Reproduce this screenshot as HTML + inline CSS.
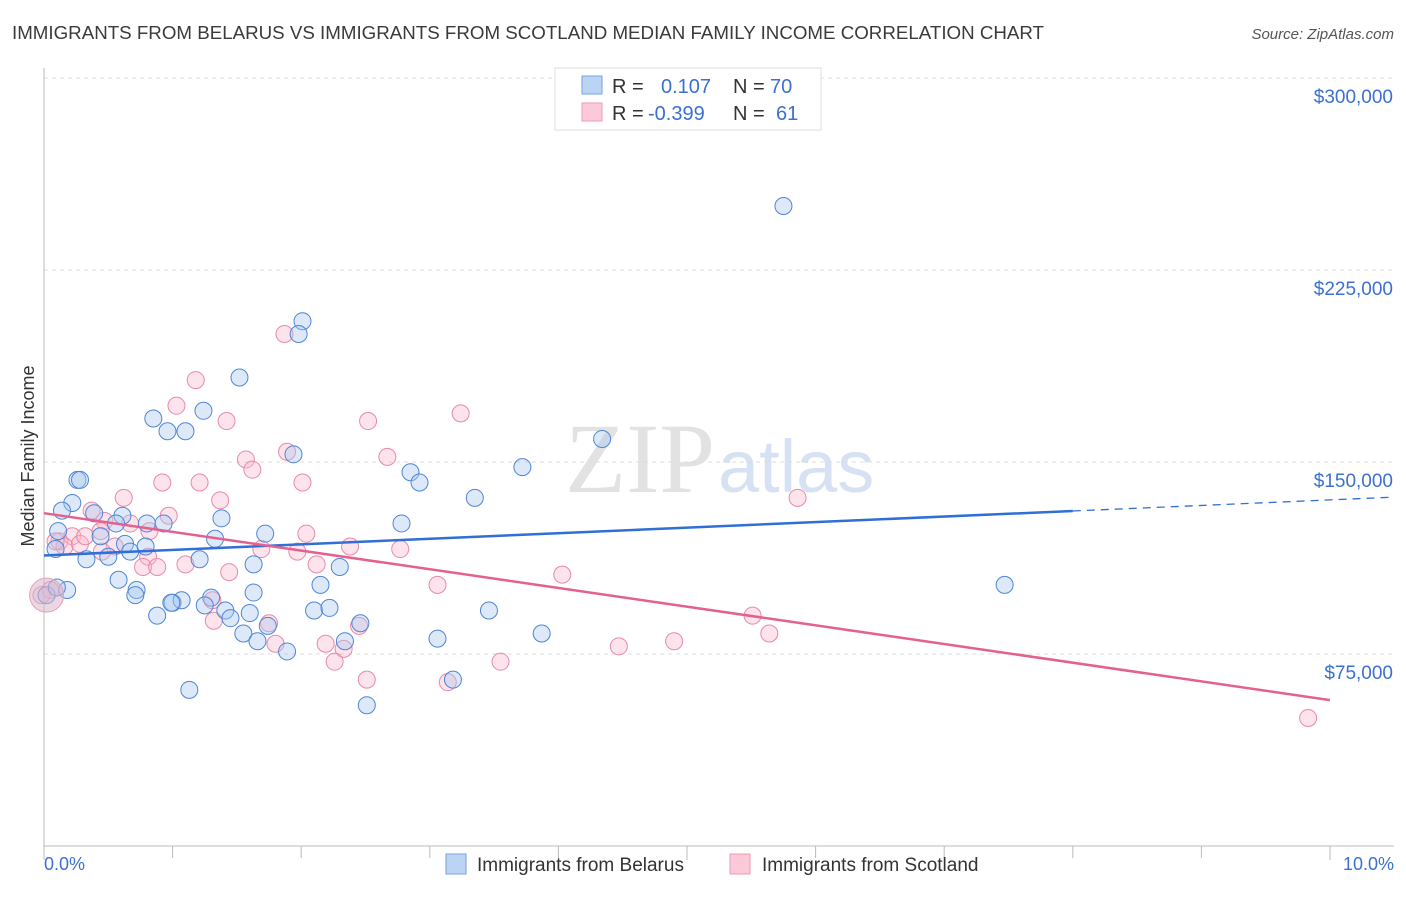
<!DOCTYPE html>
<html><head><meta charset="utf-8"><style>
body{margin:0;background:#fff;width:1406px;height:892px;overflow:hidden;font-family:"Liberation Sans",sans-serif}
</style></head><body>
<svg id="c" width="1406" height="892" xmlns="http://www.w3.org/2000/svg">
<text x="12" y="39" font-size="18" fill="#3a3a3a" textLength="1032" lengthAdjust="spacingAndGlyphs">IMMIGRANTS FROM BELARUS VS IMMIGRANTS FROM SCOTLAND MEDIAN FAMILY INCOME CORRELATION CHART</text>
<text x="1394" y="39" font-size="15" fill="#555" font-style="italic" text-anchor="end">Source: ZipAtlas.com</text>
<text x="715" y="492" font-size="100" fill="#e2e2e2" text-anchor="end" font-family="Liberation Serif,serif">ZIP</text>
<text x="718" y="492" font-size="74" fill="#d6e2f3">atlas</text>
<text transform="translate(34,456) rotate(-90)" font-size="18" fill="#333" text-anchor="middle">Median Family Income</text>
<g id="grid"></g><g id="pts"></g><g id="lines"></g>
<g>
<rect x="555" y="68" width="266" height="62" fill="#fff" stroke="#ddd"/>
<rect x="582" y="76" width="20" height="18" fill="#bcd4f4" stroke="#7aa3e0"/>
<rect x="582" y="103" width="20" height="18" fill="#fcc9d8" stroke="#ee9ab3"/>
<text x="612" y="93" font-size="20" fill="#333">R = <tspan fill="#3b70d0" x="661">0.107</tspan><tspan fill="#333" x="733">N = </tspan><tspan fill="#3b70d0" x="770">70</tspan></text>
<text x="612" y="120" font-size="20" fill="#333">R = <tspan fill="#3b70d0" x="648">-0.399</tspan><tspan fill="#333" x="733">N = </tspan><tspan fill="#3b70d0" x="776">61</tspan></text>
</g>
<g>
<rect x="446" y="854" width="20" height="20" fill="#bcd4f4" stroke="#7aa3e0"/>
<text x="477" y="871" font-size="19" fill="#333">Immigrants from Belarus</text>
<rect x="730" y="854" width="20" height="20" fill="#fcc9d8" stroke="#ee9ab3"/>
<text x="762" y="871" font-size="19" fill="#333">Immigrants from Scotland</text>
</g>
<text x="44" y="870" font-size="18" fill="#3b70d0">0.0%</text>
<text x="1394" y="870" font-size="18" fill="#3b70d0" text-anchor="end">10.0%</text>
</svg>
<script>
const yTicks=[300000,225000,150000,75000];
const yTickLabels=["$300,000","$225,000","$150,000","$75,000"];
const xTicks=[0,1,2,3,4,5,6,7,8,9,10];
const belarusX=[5.75,2.01,1.98,1.52,0.85,1.24,0.96,1.10,1.94,4.34,3.72,2.85,2.92,3.35,0.26,0.28,0.22,0.14,0.39,0.61,0.56,0.80,0.93,2.78,1.38,1.72,0.11,0.44,0.63,0.79,1.33,0.09,0.50,0.67,0.33,1.21,1.63,2.30,0.58,2.15,0.72,7.47,0.18,0.71,1.63,1.30,0.88,1.00,1.07,0.99,1.25,1.41,1.45,1.60,2.10,3.46,2.46,1.55,1.66,2.34,3.06,3.87,1.89,1.13,3.18,2.51,0.02,1.74,2.22,0.10];
const belarusY=[250000,205000,200000,183000,167000,170000,162000,162000,153000,159000,148000,146000,142000,136000,143000,143000,134000,131000,130000,129000,126000,126000,126000,126000,128000,122000,123000,121000,118000,117000,120000,116000,113000,115000,112000,112000,110000,109000,104000,102000,100000,102000,100000,98000,99000,97000,90000,95000,96000,95000,94000,92000,89000,91000,92000,92000,87000,83000,80000,80000,81000,83000,76000,61000,65000,55000,98000,86000,93000,101000];
const scotX=[1.87,1.18,1.03,1.42,3.24,2.52,0.92,1.89,1.57,1.62,1.21,2.01,2.67,0.62,1.37,0.37,0.67,0.47,0.82,0.97,0.22,0.12,0.16,0.28,0.44,0.55,0.81,1.10,1.69,1.97,2.04,2.38,2.77,0.77,0.88,1.44,2.12,4.03,3.06,5.86,5.51,5.64,1.32,1.75,1.80,2.19,2.33,2.45,2.26,2.51,3.14,3.55,4.47,4.90,9.83,0.05,0.32,1.31,0.45,-0.02,0.09];
const scotY=[200000,182000,172000,166000,169000,166000,142000,154000,151000,147000,142000,142000,152000,136000,135000,131000,126000,127000,123000,129000,121000,119000,117000,118000,123000,117000,113000,110000,116000,115000,122000,117000,116000,109000,109000,107000,110000,106000,102000,136000,90000,83000,88000,87000,79000,79000,77000,86000,72000,65000,64000,72000,78000,80000,50000,100000,121000,96000,115000,98000,119000];
const X0=44,X1=1330,YB=846,YS=192/75000;
const xs=v=>X0+(X1-X0)*v/10;
const ys=v=>YB-v*YS;
const NS="http://www.w3.org/2000/svg";
function mk(t,a,p){const e=document.createElementNS(NS,t);for(const k in a)e.setAttribute(k,a[k]);p.appendChild(e);return e;}
const grid=document.getElementById('grid');
yTicks.forEach((t,i)=>{
 const l=mk('line',{x1:X0,x2:1394,y1:ys(t),y2:ys(t),stroke:'#ddd','stroke-dasharray':'4,4'},grid);
 
 
 const tx=mk('text',{x:1393,y:ys(t)+25,'font-size':19,fill:'#3b70d0','text-anchor':'end'},grid);
 tx.textContent=yTickLabels[i];
 
 
});
const ax=mk('line',{x1:X0,x2:X0,y1:68,y2:YB,stroke:'#bbb'},grid);


const bx=mk('line',{x1:X0,x2:1394,y1:YB,y2:YB,stroke:'#bbb'},grid);


xTicks.forEach(t=>{
 const l=mk('line',{x1:xs(t),x2:xs(t),y1:YB,y2:t%5==0?YB+14:YB+12,stroke:'#bbb'},grid);
 
 
});
const pts=document.getElementById('pts');
function draw(X,Y,fill,stroke,name){
 X.forEach((x,i)=>{
  const c=mk('circle',{cx:xs(x),cy:ys(Y[i]),r:8.5,fill:fill,'fill-opacity':0.4,stroke:stroke,'stroke-width':1},pts);
  
  
 });
}
draw(scotX,scotY,'#f9b8cc','#e88aa8','scotland-point');
draw(belarusX,belarusY,'#a9c8f0','#4f86d6','belarus-point');
const big=mk('circle',{cx:xs(0.02),cy:ys(98000),r:17,fill:'#d8b6cc','fill-opacity':0.55,stroke:'#e8a0b8'},pts);


const lines=document.getElementById('lines');
const bInt=113500,bSlope=2170,sInt=130000,sSlope=-7300;
let l=mk('line',{x1:xs(0),y1:ys(bInt),x2:xs(8),y2:ys(bInt+bSlope*8),stroke:'#2f6fd6','stroke-width':2.5},lines);


l=mk('line',{x1:xs(8),y1:ys(bInt+bSlope*8),x2:1394,y2:ys(bInt+bSlope*((1394-X0)/128.6)),stroke:'#2f6fd6','stroke-width':1.3,'stroke-dasharray':'8,6'},lines);


l=mk('line',{x1:xs(0),y1:ys(sInt),x2:xs(10),y2:ys(sInt+sSlope*10),stroke:'#e4608e','stroke-width':2.5},lines);


</script>
</body></html>
